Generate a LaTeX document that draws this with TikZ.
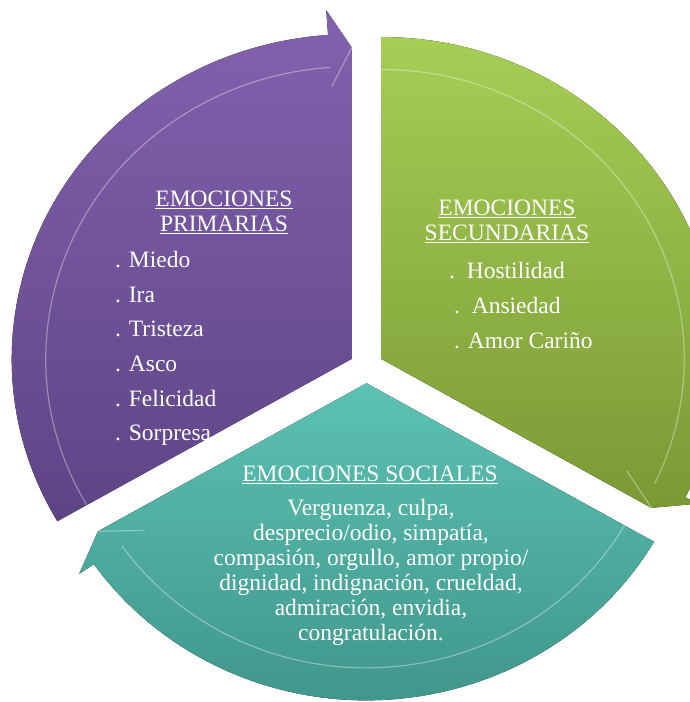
\documentclass[tikz,border=0pt]{standalone}
\usepackage{fontspec}
\setmainfont{Liberation Serif}
\definecolor{violetTop}{HTML}{8262AE}
\definecolor{violetBot}{HTML}{5E4485}
\definecolor{limeTop}{HTML}{A6CE55}
\definecolor{limeBot}{HTML}{7A9935}
\definecolor{tealTop}{HTML}{5CC2B3}
\definecolor{tealBot}{HTML}{3C9185}

\begin{document}
\begin{tikzpicture}[x=1pt,y=1pt,
  bevel/.style={draw=white,opacity=.35,line width=1.2pt},
  heading/.style={text=white,align=center,inner sep=0pt,font=\fontsize{23.5}{25}\selectfont},
  entries/.style={text=white,align=left,anchor=west,inner sep=0pt,font=\fontsize{23.5}{34.6}\selectfont}]
\useasboundingbox (0,0) rectangle (690,702);
\begin{scope}[shift={(366.5,335)},yscale=0.955]
\foreach \b/\R/\t/\w/\ctop/\cbot in {150/340/326/4/violetTop/violetBot,30/337/312/4.5/limeTop/limeBot,270/332/310/4.8/tealTop/tealBot} {
  \begin{scope}[shift={(\b:17pt)}]
    \pgfmathsetmacro\s{\b+60}
    \pgfmathsetmacro\e{\b-60}
    \fill[top color=\ctop,bottom color=\cbot] (0,0) -- (\s:\R pt)
      arc[start angle=\s,end angle=\e+\w,radius=\R pt] -- (\e+\w:\t pt+40pt) -- (\e:\t pt) -- cycle;
    \draw[bevel] (\s:\R pt-34pt) arc[start angle=\s,end angle=\e+\w,radius=\R pt-34pt];
    \draw[bevel] (\e+\w:\t pt-40pt) -- (\e:\t pt);
  \end{scope}
}
\end{scope}
% primarias
\node[heading] (primT) at (224,489.5) {\underline{EMOCIONES}\\\underline{PRIMARIAS}};
\node[entries] (primL) at (115,353.5) {. Miedo\\. Ira\\. Tristeza\\. Asco\\. Felicidad\\. Sorpresa};
% secundarias
\node[heading] (secT) at (507,480.5) {\underline{EMOCIONES}\\\underline{SECUNDARIAS}};
\node[entries,font=\fontsize{23.5}{35}\selectfont] (secL) at (449,396)
  {.\ \ Hostilidad\\\hspace*{5pt}.\ \ Ansiedad\\\hspace*{5pt}. Amor Cariño};
% sociales
\node[heading] (socT) at (370,227) {\underline{EMOCIONES SOCIALES}};
\node[heading] (socL) at (371,129.5) {Verguenza, culpa,\\desprecio/odio, simpatía,\\compasión, orgullo, amor propio/\\dignidad, indignación, crueldad,\\admiración, envidia,\\congratulación.};
\end{tikzpicture}
\end{document}
